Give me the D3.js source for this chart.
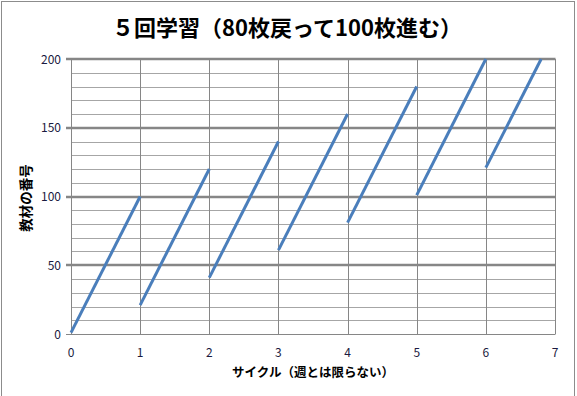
<!DOCTYPE html>
<html>
<head>
<meta charset="utf-8">
<script src="https://cdn.jsdelivr.net/npm/d3@7"></script>
<style>
  body { margin: 0; background: #fff; }
  text { font-family: "Noto Sans CJK JP", "DejaVu Sans", sans-serif; }
</style>
</head>
<body>
<div id="chart"></div>
<script>
// each cycle: start number and end number
var cycleStart = [0, 1, 2, 3, 4, 5, 6];
var cycleEnd = [1, 2, 3, 4, 5, 6, 6.8];
var startValue = [1, 21, 41, 61, 81, 101, 121];
var endValue = [100, 120, 140, 160, 180, 200, 200];
var xTicks = [0, 1, 2, 3, 4, 5, 6, 7];
var yTicks = [0, 50, 100, 150, 200];

var width = 577, height = 396;
var margin = { top: 59, right: 22, bottom: 62, left: 71 };

var svg = d3.select('#chart').append('svg')
    .attr('width', width)
    .attr('height', height);

svg.append('rect')
    .attr('x', 1.5).attr('y', 1.5)
    .attr('width', 573).attr('height', 400)
    .attr('fill', 'none')
    .attr('stroke', '#8c8c8c');

var x = d3.scaleLinear().domain([0, 7]).range([margin.left, width - margin.right]);
var y = d3.scaleLinear().domain([0, 200]).range([height - margin.bottom, margin.top]);

// minor horizontal grid every 10
svg.append('g')
    .selectAll('line')
    .data(d3.range(10, 200, 10).filter(d => d % 50 !== 0))
    .enter().append('line')
    .attr('x1', x(0)).attr('x2', x(7))
    .attr('y1', d => Math.round(y(d)) + 0.5)
    .attr('y2', d => Math.round(y(d)) + 0.5)
    .attr('stroke', '#a6a6a6')
    .attr('stroke-width', 1);

// vertical grid
svg.append('g')
    .selectAll('line')
    .data(xTicks)
    .enter().append('line')
    .attr('x1', d => Math.round(x(d)) + 0.5)
    .attr('x2', d => Math.round(x(d)) + 0.5)
    .attr('y1', y(200)).attr('y2', y(0))
    .attr('stroke', '#868686')
    .attr('stroke-width', 1);

// major horizontal grid
svg.append('g')
    .selectAll('line')
    .data(yTicks.filter(d => d > 0))
    .enter().append('line')
    .attr('x1', x(0) - 5).attr('x2', x(7) + 0.5)
    .attr('y1', d => Math.round(y(d)))
    .attr('y2', d => Math.round(y(d)))
    .attr('stroke', '#868686')
    .attr('stroke-width', 2.5);

// bottom axis line
svg.append('line')
    .attr('x1', x(0) - 5).attr('x2', x(7) + 0.5)
    .attr('y1', Math.round(y(0)) + 0.5).attr('y2', Math.round(y(0)) + 0.5)
    .attr('stroke', '#868686');

// y tick labels
svg.append('g')
    .selectAll('text')
    .data(yTicks)
    .enter().append('text')
    .attr('x', 61)
    .attr('y', d => y(d) + 4.5)
    .attr('text-anchor', 'end')
    .attr('font-size', 12)
    .attr('fill', '#1a1a40')
    .text(d => d);

// x tick labels
svg.append('g')
    .selectAll('text')
    .data(xTicks)
    .enter().append('text')
    .attr('x', d => x(d))
    .attr('y', 357)
    .attr('text-anchor', 'middle')
    .attr('font-size', 12)
    .attr('fill', '#1a1a40')
    .text(d => d);

// study lines
var segs = cycleStart.map((c, i) => [[c, startValue[i]], [cycleEnd[i], endValue[i]]]);
var line = d3.line().x(d => x(d[0])).y(d => y(d[1]));
svg.append('g')
    .selectAll('path')
    .data(segs)
    .enter().append('path')
    .attr('d', line)
    .attr('fill', 'none')
    .attr('stroke', '#4a7ebb')
    .attr('stroke-width', 3);

// titles
svg.append('text')
    .attr('x', 287).attr('y', 36)
    .attr('text-anchor', 'middle')
    .attr('font-size', 22)
    .attr('font-weight', 'bold')
    .text('５回学習（80枚戻って100枚進む）');

svg.append('text')
    .attr('x', 313).attr('y', 377)
    .attr('text-anchor', 'middle')
    .attr('font-size', 12.5)
    .attr('font-weight', 'bold')
    .text('サイクル（週とは限らない）');

svg.append('text')
    .attr('transform', 'translate(31,198) rotate(-90)')
    .attr('text-anchor', 'middle')
    .attr('font-size', 13.5)
    .attr('font-weight', 'bold')
    .text('教材の番号');
</script>
</body>
</html>
